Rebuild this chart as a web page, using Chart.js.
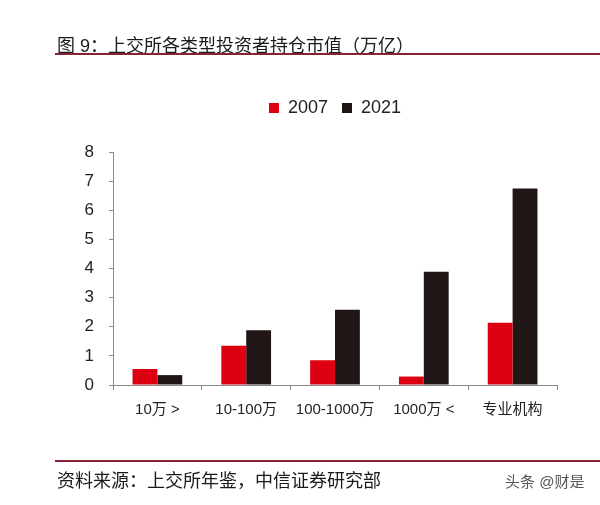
<!DOCTYPE html>
<html>
<head>
<meta charset="utf-8">
<script src="https://cdn.jsdelivr.net/npm/chart.js@4/dist/chart.umd.min.js"></script>
<style>
    body { margin: 0; background: #fff; font-family: "Liberation Sans", "Noto Sans CJK SC", sans-serif; }
    #pagina { position: relative; width: 600px; height: 505px; overflow: hidden; }
    #grafica { position: absolute; left: 0; top: 0; }
    .titulo { position: absolute; left: 57px; top: 31px; font-size: 18px; color: #1a1a1a; white-space: nowrap; }
    .linea { position: absolute; left: 55px; width: 545px; height: 2px; background: #862433; }
    .fuente { position: absolute; left: 57px; top: 466px; font-size: 18px; color: #1a1a1a; white-space: nowrap; }
    .marca { position: absolute; left: 505px; top: 470px; font-size: 15px; color: #555; white-space: nowrap; }
</style>
</head>
<body>
<div id="pagina">
    <canvas id="grafica" width="600" height="505"></canvas>
    <div class="titulo">图 9：上交所各类型投资者持仓市值（万亿）</div>
    <div class="linea" style="top: 53px;"></div>
    <div class="linea" style="top: 460px;"></div>
    <div class="fuente">资料来源：上交所年鉴，中信证券研究部</div>
    <div class="marca">头条 @财是</div>
</div>
<script>
// Datos
const categorias = ["10万 >", "10-100万", "100-1000万", "1000万 <", "专业机构"];
const valores2007 = [0.55, 1.35, 0.85, 0.29, 2.14];
const valores2021 = [0.34, 1.88, 2.58, 3.89, 6.75];
const ticksY = [0, 1, 2, 3, 4, 5, 6, 7, 8];

const fuente = "'Liberation Sans', 'Noto Sans CJK SC', sans-serif";
const gris = "#8a8a8a";

// Espacio extra debajo de la leyenda y leyenda centrada sobre el área de barras
const ajusteLeyenda = {
    id: "ajusteLeyenda",
    beforeInit(chart) {
        const fitOriginal = chart.legend.fit;
        chart.legend.fit = function () {
            fitOriginal.bind(chart.legend)();
            this.height += 25;
        };
    },
    afterLayout(chart) {
        const area = chart.chartArea;
        const ancho = chart.legend.right - chart.legend.left;
        chart.legend.left = (area.left + area.right) / 2 - ancho / 2;
        chart.legend.right = chart.legend.left + ancho;
    }
};

const ctx = document.getElementById("grafica").getContext("2d");

let graficaBarras = new Chart(ctx, {
    type: "bar",
    data: {
        labels: categorias,
        datasets: [{
            label: "2007",
            data: valores2007,
            backgroundColor: "#dc0010",
            borderWidth: 0
        }, {
            label: "2021",
            data: valores2021,
            backgroundColor: "#1f1615",
            borderWidth: 0
        }]
    },
    options: {
        responsive: false,
        animation: false,
        categoryPercentage: 0.56,
        barPercentage: 1,
        layout: {
            padding: { left: 0, right: 43, top: 85, bottom: 0 }
        },
        plugins: {
            legend: {
                position: "top",
                labels: {
                    boxWidth: 10,
                    boxHeight: 10,
                    padding: 14,
                    color: "#222",
                    font: { family: fuente, size: 18 }
                }
            },
            tooltip: { enabled: false }
        },
        scales: {
            x: {
                afterFit: (escala) => { escala.height = 120; },
                grid: {
                    drawOnChartArea: false,
                    drawTicks: true,
                    tickLength: 5,
                    color: gris,
                    offset: true
                },
                border: { display: true, color: gris, width: 1 },
                ticks: {
                    color: "#222",
                    padding: 11,
                    maxRotation: 0,
                    font: { family: fuente, size: 15 }
                }
            },
            y: {
                min: 0,
                max: 8,
                afterFit: (escala) => { escala.width = 113; },
                afterBuildTicks: (escala) => {
                    escala.ticks = ticksY.map(v => ({ value: v }));
                },
                grid: {
                    drawOnChartArea: false,
                    drawTicks: true,
                    tickLength: 4,
                    color: gris
                },
                border: { display: true, color: gris, width: 1 },
                ticks: {
                    color: "#222",
                    padding: 15,
                    font: { family: fuente, size: 17 }
                }
            }
        }
    },
    plugins: [ajusteLeyenda]
});
</script>
</body>
</html>
